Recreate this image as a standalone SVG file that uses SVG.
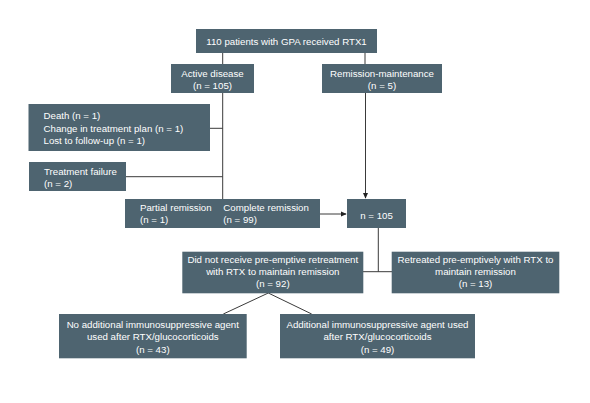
<svg xmlns="http://www.w3.org/2000/svg" width="590" height="403" viewBox="0 0 590 403">
<defs>
<style>
.box{fill:#4e6470}
.t{font-family:"Liberation Sans",Arial,sans-serif;font-size:9.7px;fill:#ffffff}
.c{text-anchor:middle}
.ln{stroke:#3a3a3a;stroke-width:1;fill:none}
</style>
<marker id="ah" viewBox="0 0 8 8" refX="7" refY="4" markerWidth="6" markerHeight="6" orient="auto" markerUnits="userSpaceOnUse">
<path d="M0,0.5 L8,4 L0,7.5 Z" fill="#222"/>
</marker>
</defs>
<rect width="590" height="403" fill="#ffffff"/>
<g id="connectors">
<line class="ln" x1="222.7" y1="53" x2="222.7" y2="64"/>
<line class="ln" x1="365" y1="53" x2="365" y2="64"/>
<line class="ln" x1="222.7" y1="93" x2="222.7" y2="199"/>
<line class="ln" x1="210" y1="128.3" x2="222.7" y2="128.3"/>
<line class="ln" x1="126" y1="176.7" x2="222.7" y2="176.7"/>
<line class="ln" x1="365.5" y1="93" x2="365.5" y2="198" marker-end="url(#ah)"/>
<line class="ln" x1="320" y1="214" x2="346" y2="214" marker-end="url(#ah)"/>
<line class="ln" x1="378.3" y1="228" x2="378.3" y2="271.7"/>
<line class="ln" x1="363" y1="271.7" x2="392" y2="271.7"/>
<line class="ln" x1="268.3" y1="293" x2="223.3" y2="314"/>
<line class="ln" x1="268.3" y1="293" x2="311.7" y2="314"/>
</g>
<g id="n-start">
<rect class="box" x="196" y="29" width="181" height="24"/>
<text class="t c" x="286.5" y="44.8">110 patients with GPA received RTX1</text>
</g>
<g id="n-active">
<rect class="box" x="171" y="64" width="83" height="29"/>
<text class="t c" x="212.5" y="76.8">Active disease</text>
<text class="t c" x="212.5" y="88.5">(n = 105)</text>
</g>
<g id="n-remission">
<rect class="box" x="322" y="64" width="120" height="29"/>
<text class="t c" x="382" y="76.8">Remission-maintenance</text>
<text class="t c" x="382" y="88.5">(n = 5)</text>
</g>
<g id="n-death">
<rect class="box" x="28.5" y="104" width="181.5" height="47"/>
<text class="t" x="43.5" y="119.4">Death (n = 1)</text>
<text class="t" x="43.5" y="131.8">Change in treatment plan (n = 1)</text>
<text class="t" x="43.5" y="144.2">Lost to follow-up (n = 1)</text>
</g>
<g id="n-failure">
<rect class="box" x="29" y="162" width="97" height="29"/>
<text class="t" x="44" y="175.2">Treatment failure</text>
<text class="t" x="44" y="186.5">(n = 2)</text>
</g>
<g id="n-partial">
<rect class="box" x="125" y="199" width="195" height="29"/>
<text class="t" x="140" y="210.8">Partial remission</text>
<text class="t" x="140" y="222.8">(n = 1)</text>
<text class="t" x="223.3" y="210.8">Complete remission</text>
<text class="t" x="223.3" y="222.8">(n = 99)</text>
</g>
<g id="n-105">
<rect class="box" x="347" y="199" width="59" height="29"/>
<text class="t c" x="376.5" y="218.5">n = 105</text>
</g>
<g id="n-notretreated">
<rect class="box" x="182.3" y="251.7" width="181" height="41.6"/>
<text class="t c" x="272.8" y="262.8">Did not receive pre-emptive retreatment</text>
<text class="t c" x="272.8" y="275.2">with RTX to maintain remission</text>
<text class="t c" x="272.8" y="287">(n = 92)</text>
</g>
<g id="n-retreated">
<rect class="box" x="391.7" y="251.7" width="167.6" height="41.6"/>
<text class="t c" x="475.5" y="262.8">Retreated pre-emptively with RTX to</text>
<text class="t c" x="475.5" y="275.2">maintain remission</text>
<text class="t c" x="475.5" y="287">(n = 13)</text>
</g>
<g id="n-noadd">
<rect class="box" x="59" y="314" width="187.7" height="44.3"/>
<text class="t c" x="152.8" y="327.8">No additional immunosuppressive agent</text>
<text class="t c" x="152.8" y="340.2">used after RTX/glucocorticoids</text>
<text class="t c" x="152.8" y="352.8">(n = 43)</text>
</g>
<g id="n-add">
<rect class="box" x="280" y="314" width="195" height="44.3"/>
<text class="t c" x="377.5" y="327.8">Additional immunosuppressive agent used</text>
<text class="t c" x="377.5" y="340.2">after RTX/glucocorticoids</text>
<text class="t c" x="377.5" y="352.8">(n = 49)</text>
</g>
</svg>
